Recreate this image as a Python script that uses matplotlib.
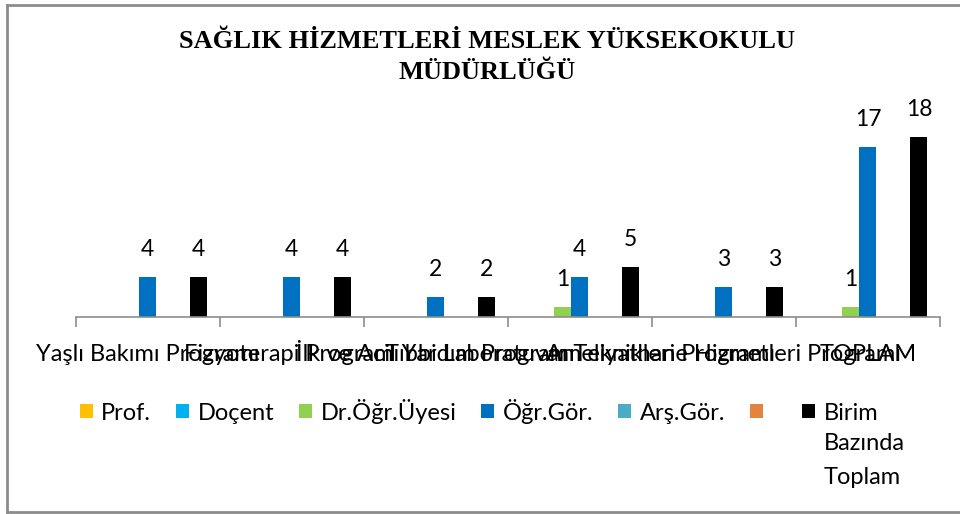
import matplotlib.pyplot as plt
import numpy as np
from matplotlib.lines import Line2D

categories = ["Yaşlı Bakımı Programı", "Fizyoterapi Programı",
              "İlk ve Acil Yardım Programı", "Tıbbi Laboratuvar Teknikleri Programı",
              "Ameliyathane Hizmetleri Programı", "TOPLAM"]
series_names = ["Prof.", "Doçent", "Dr.Öğr.Üyesi", "Öğr.Gör.", "Arş.Gör.", " ", "Birim"]
prof = [0, 0, 0, 0, 0, 0]
docent = [0, 0, 0, 0, 0, 0]
dr_ogr = [0, 0, 0, 1, 0, 1]
ogr_gor = [4, 4, 2, 4, 3, 17]
ars_gor = [0, 0, 0, 0, 0, 0]
bos = [0, 0, 0, 0, 0, 0]
toplam = [4, 4, 2, 5, 3, 18]
colors = ["#FFC000", "#00B0F0", "#92D050", "#0070C0", "#4BACC6", "#E2843F", "#000000"]

all_series = [prof, docent, dr_ogr, ogr_gor, ars_gor, bos, toplam]

plt.rcParams['font.family'] = ['Lato', 'DejaVu Sans']

fig = plt.figure(figsize=(9.6, 5.14), dpi=100)
W, H = 960, 514
ax = fig.add_axes([75.5 / W, (H - 317) / H, (940 - 75.5) / W, 200 / H])

x = np.arange(len(categories))
w = 17 / 144
for i, vals in enumerate(all_series):
    pos = x + (i - 3) * w
    ax.bar(pos, vals, width=w, color=colors[i], label=series_names[i])
    for xp, v in zip(pos, vals):
        if v > 0:
            ax.annotate(str(v), (xp, v), xytext=(0, 12), textcoords="offset points",
                        ha="center", va="bottom", fontsize=16.5)

ax.set_xlim(-0.5, len(categories) - 0.5)
ax.set_ylim(0, 20)
ax.set_yticks([])
for s in ["top", "right", "left"]:
    ax.spines[s].set_visible(False)
ax.spines["bottom"].set_color("#8c8c8c")
ax.spines["bottom"].set_linewidth(1.2)

# category borders as ticks, names on minor ticks
ax.set_xticks(np.arange(len(categories) + 1) - 0.5)
ax.set_xticklabels([])
ax.tick_params(axis="x", which="major", length=7, width=1.2, color="#8c8c8c")
ax.set_xticks(x, minor=True)
ax.set_xticklabels(categories, minor=True, fontsize=17, va="baseline")
ax.tick_params(axis="x", which="minor", length=0, pad=32)

fig.text(487 / W, 1 - 57 / H, "SAĞLIK HİZMETLERİ MESLEK YÜKSEKOKULU\nMÜDÜRLÜĞÜ",
         ha="center", va="center", fontsize=19, fontweight="bold",
         family="Liberation Serif", linespacing=1.45)

leg = fig.legend(loc="center left", bbox_to_anchor=(80 / W, 1 - 411 / H), ncol=7,
                 frameon=False, fontsize=17, handlelength=0.55, handleheight=0.55,
                 handletextpad=0.35, columnspacing=1.06, borderpad=0, borderaxespad=0)

fig.canvas.draw()
bb = leg.get_texts()[-1].get_window_extent()
fig.text(bb.x0 / W, 1 - 444 / H, "Bazında", ha="left", va="center", fontsize=17)
fig.text(bb.x0 / W, 1 - 477 / H, "Toplam", ha="left", va="center", fontsize=17)

# outer frame (right side falls outside the picture)
x0, x1 = 7 / W, 1.0
y0, y1 = 1 - 512 / H, 1 - 5 / H
for xs, ys in [([x0, x1], [y1, y1]), ([x0, x0], [y0, y1]), ([x0, x1], [y0, y0])]:
    fig.add_artist(Line2D(xs, ys, transform=fig.transFigure, color="#8c8c8c", linewidth=2))

fig.savefig("out.png", dpi=100)
